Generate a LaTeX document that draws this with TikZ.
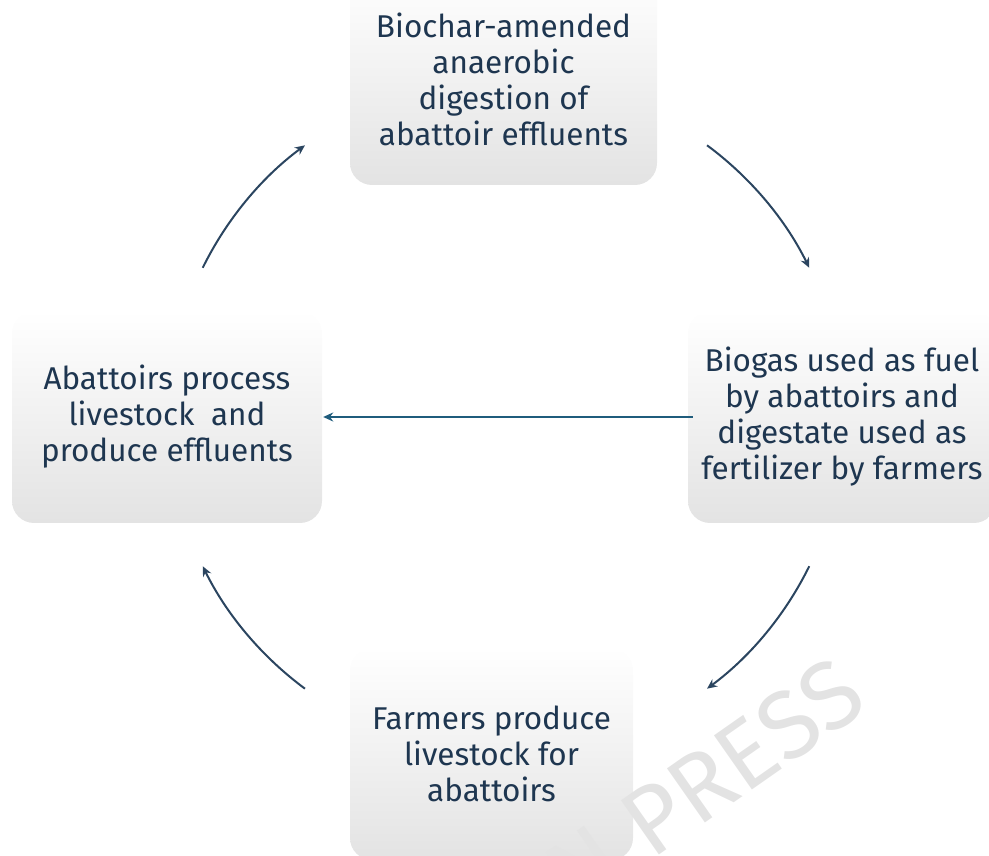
\documentclass[tikz,border=0pt]{standalone}
\usepackage{fontspec}
\setmainfont{Fira Sans}
\usetikzlibrary{arrows.meta}
\definecolor{testo}{HTML}{1E3650}
\definecolor{freccia}{HTML}{2B4560}
\definecolor{frecciadritta}{HTML}{1F5C7C}

\begin{document}
\begin{tikzpicture}[x=1pt, y=1pt,
    box/.style={rounded corners=22pt, top color=white, middle color=white, bottom color=black!11, minimum height=212pt, text=testo, align=center, font=\fontsize{31.5}{36}\selectfont},
    ciclo/.style={freccia, line width=2pt, -{Stealth[length=10pt, width=9pt]}}]
    % Parametri
    \pgfmathsetmacro{\raggio}{338}
    \pgfmathsetmacro{\aa}{153.8}
    \pgfmathsetmacro{\ab}{126.5}
    % Bordo
    \useasboundingbox (0,0) rectangle (989,856);
    % Riquadri
    \node[box, minimum width=307pt] (digestione) at (503.5,777) {Biochar-amended\\anaerobic\\digestion of\\abattoir effluents};
    \node[box, minimum width=310pt] (macelli) at (167,439) {Abattoirs process\\livestock\ \ and\\produce effluents};
    \node[box, minimum width=308pt] (biogas) at (842,439) {Biogas used as fuel\\by abattoirs and\\digestate used as\\fertilizer by farmers};
    \node[box, minimum width=283pt] (allevatori) at (491.5,102) {Farmers produce\\livestock for\\abattoirs};
    % Filigrana
    \begin{scope}
    \clip (0,0) rectangle (989,856);
    \node[text=black!11, font=\fontsize{96}{96}\selectfont, rotate=35, anchor=east, inner sep=0pt] (filigrana) at (852,176) {IN PRESS};
    \end{scope}
    % Centro del ciclo
    \coordinate (centro) at (506,439);
    % Frecce curve
    \draw[ciclo] ([shift={(\aa:\raggio)}]centro) arc[start angle=\aa, end angle=\ab, radius=\raggio];
    \draw[ciclo] ([shift={(180-\ab:\raggio)}]centro) arc[start angle=180-\ab, end angle=180-\aa, radius=\raggio];
    \draw[ciclo] ([shift={(\aa+180:\raggio)}]centro) arc[start angle=\aa+180, end angle=\ab+180, radius=\raggio];
    \draw[ciclo] ([shift={(-\ab:\raggio)}]centro) arc[start angle=-\ab, end angle=-\aa, radius=\raggio];
    % Freccia dritta
    \draw[frecciadritta, line width=2pt, -{Stealth[length=10pt, width=9pt]}, shorten <=-5pt, shorten >=1pt] (biogas.west) -- (macelli.east);
\end{tikzpicture}
\end{document}
